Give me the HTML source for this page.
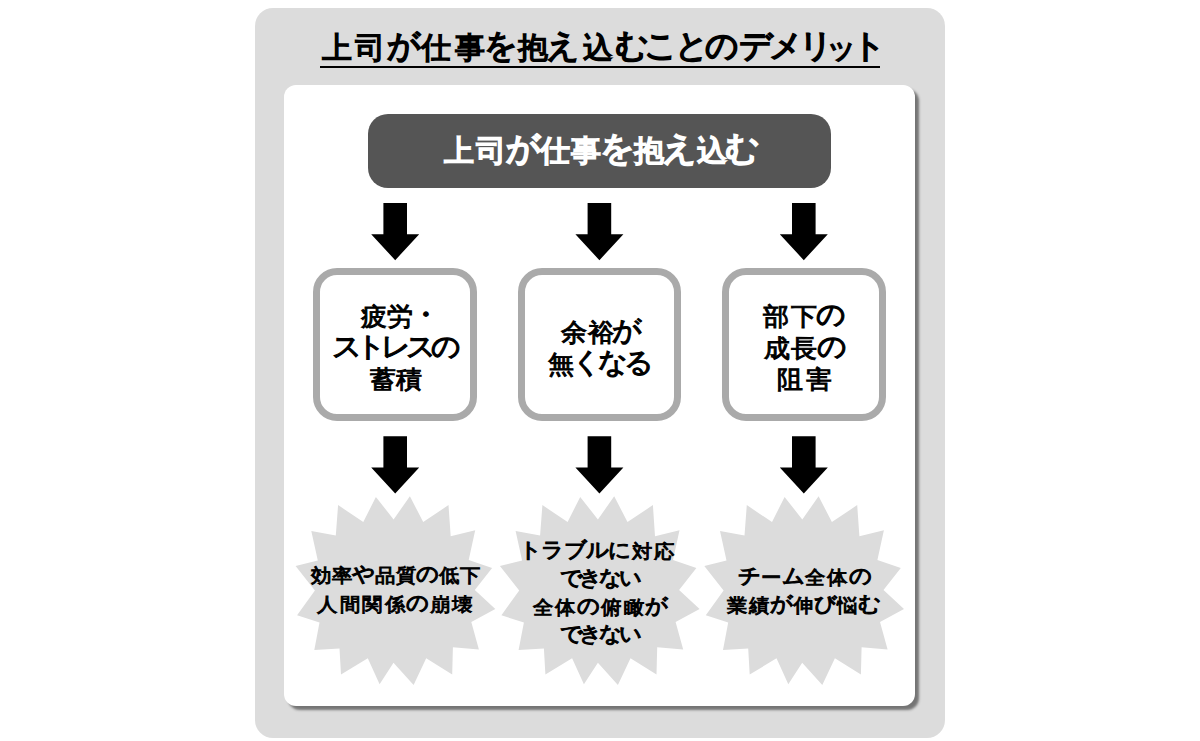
<!DOCTYPE html>
<html><head><meta charset="utf-8"><style>
html,body{margin:0;padding:0;width:1200px;height:741px;overflow:hidden;background:#fff;}
body{position:relative;font-family:"Liberation Sans",sans-serif;}
.t{position:absolute;white-space:nowrap;font-weight:bold;line-height:1;color:#000;display:flex;}
.t span{display:flex;flex:none;justify-content:center;}
.box{position:absolute;top:268px;width:149.5px;height:139.0px;border:7.5px solid #aaa;border-radius:24px;}
svg{position:absolute;left:0;top:0;}
</style></head><body>
<div style="position:absolute;left:254.5px;top:8px;width:690.5px;height:729.5px;border-radius:18px;background:#dcdcdc"></div>
<div style="position:absolute;left:320px;top:65.5px;width:560px;height:2px;background:#000"></div>
<div style="position:absolute;left:284px;top:85px;width:631px;height:621px;border-radius:12px;background:#fff;box-shadow:4px 4px 2.5px rgba(0,0,0,0.47)"></div>
<div style="position:absolute;left:368.4px;top:113.5px;width:463.1px;height:74.2px;border-radius:20px;background:#555"></div>
<div class="box" style="left:313.2px"></div>
<div class="box" style="left:517.8px"></div>
<div class="box" style="left:722.3px"></div>
<svg width="1200" height="741" viewBox="0 0 1200 741">
<polygon points="383.40,203 407.00,203 407.00,234.20 419.20,234.20 395.20,260.20 371.20,234.20 383.40,234.20" fill="#000"/>
<polygon points="383.40,436.3 407.00,436.3 407.00,467.50 419.20,467.50 395.20,493.50 371.20,467.50 383.40,467.50" fill="#000"/>
<polygon points="587.60,203 611.20,203 611.20,234.20 623.40,234.20 599.40,260.20 575.40,234.20 587.60,234.20" fill="#000"/>
<polygon points="587.60,436.3 611.20,436.3 611.20,467.50 623.40,467.50 599.40,493.50 575.40,467.50 587.60,467.50" fill="#000"/>
<polygon points="792.00,203 815.60,203 815.60,234.20 827.80,234.20 803.80,260.20 779.80,234.20 792.00,234.20" fill="#000"/>
<polygon points="792.00,436.3 815.60,436.3 815.60,467.50 827.80,467.50 803.80,493.50 779.80,467.50 792.00,467.50" fill="#000"/>
<polygon points="393.6,519.5 409.9,496.2 423.2,522.1 448.5,505.1 450.7,536.2 475.2,530.3 468.7,560.0 492.1,568.0 474.8,590.0 495.3,609.0 471.3,621.9 478.9,649.4 452.9,647.2 452.2,674.6 426.2,658.3 413.6,685.0 393.5,662.7 379.6,684.3 367.8,658.3 341.0,674.6 339.5,648.6 314.3,650.1 319.5,622.5 297.1,615.3 314.9,590.5 295.6,566.0 317.8,560.5 311.3,531.0 335.8,535.5 338.1,505.1 363.3,522.1 375.9,496.9" fill="#dcdcdc"/>
<polygon points="597.9,519.5 614.2,496.2 627.5,522.1 652.9,505.1 655.0,536.2 679.5,530.3 673.0,560.0 696.4,568.0 679.1,590.0 699.6,609.0 675.6,621.9 683.2,649.4 657.2,647.2 656.5,674.6 630.5,658.3 617.9,685.0 597.9,662.7 583.9,684.3 572.1,658.3 545.4,674.6 543.9,648.6 518.6,650.1 523.9,622.5 501.4,615.3 519.2,590.5 499.9,566.0 522.1,560.5 515.6,531.0 540.1,535.5 542.4,505.1 567.6,522.1 580.2,496.9" fill="#dcdcdc"/>
<polygon points="802.3,519.5 818.6,496.2 831.9,522.1 857.2,505.1 859.4,536.2 883.9,530.3 877.4,560.0 900.8,568.0 883.5,590.0 904.0,609.0 880.0,621.9 887.6,649.4 861.6,647.2 860.9,674.6 834.9,658.3 822.3,685.0 802.2,662.7 788.3,684.3 776.5,658.3 749.7,674.6 748.2,648.6 723.0,650.1 728.2,622.5 705.8,615.3 723.6,590.5 704.3,566.0 726.5,560.5 720.0,531.0 744.5,535.5 746.8,505.1 772.0,522.1 784.6,496.9" fill="#dcdcdc"/>
</svg>
<div class="t" id="title" style="left:0px;top:33.40px;font-size:29.80px;-webkit-text-stroke:1.5px #000;font-weight:normal;width:1200px;height:29.80px"><span style="position:absolute;left:317.00px;top:0;width:40.00px;transform:scaleX(1.000)">上</span><span style="position:absolute;left:349.70px;top:0;width:40.00px;transform:scaleX(1.000)">司</span><span style="position:absolute;left:384.30px;top:0;width:40.00px;transform:translateY(-0.06em) scale(1.120,1.120);transform-origin:50% 56%">が</span><span style="position:absolute;left:415.70px;top:0;width:40.00px;transform:scaleX(1.000)">仕</span><span style="position:absolute;left:450.00px;top:0;width:40.00px;transform:scaleX(1.000)">事</span><span style="position:absolute;left:481.30px;top:0;width:40.00px;transform:translateY(-0.06em) scale(1.120,1.120);transform-origin:50% 56%">を</span><span style="position:absolute;left:512.70px;top:0;width:40.00px;transform:scaleX(1.000)">抱</span><span style="position:absolute;left:543.30px;top:0;width:40.00px;transform:translateY(-0.06em) scale(1.120,1.120);transform-origin:50% 56%">え</span><span style="position:absolute;left:578.00px;top:0;width:40.00px;transform:scaleX(1.000)">込</span><span style="position:absolute;left:612.00px;top:0;width:40.00px;transform:translateY(-0.06em) scale(1.120,1.120);transform-origin:50% 56%">む</span><span style="position:absolute;left:640.70px;top:0;width:40.00px;transform:translateY(-0.06em) scale(1.120,1.120);transform-origin:50% 56%">こ</span><span style="position:absolute;left:672.00px;top:0;width:40.00px;transform:translateY(-0.06em) scale(1.120,1.120);transform-origin:50% 56%">と</span><span style="position:absolute;left:701.70px;top:0;width:40.00px;transform:translateY(-0.06em) scale(1.120,1.120);transform-origin:50% 56%">の</span><span style="position:absolute;left:736.20px;top:0;width:40.00px;transform:translateY(-0.06em) scale(1.120,1.120);transform-origin:50% 56%">デ</span><span style="position:absolute;left:766.20px;top:0;width:40.00px;transform:translateY(-0.06em) scale(1.120,1.120);transform-origin:50% 56%">メ</span><span style="position:absolute;left:796.20px;top:0;width:40.00px;transform:translateY(-0.06em) scale(1.120,1.120);transform-origin:50% 56%">リ</span><span style="position:absolute;left:821.70px;top:0;width:40.00px;transform:scaleX(1.000)">ッ</span><span style="position:absolute;left:848.70px;top:0;width:40.00px;transform:translateY(-0.06em) scale(1.120,1.120);transform-origin:50% 56%">ト</span></div>
<div class="t" id="dark" style="left:0px;top:136.20px;font-size:30.20px;-webkit-text-stroke:1.8px #fff;color:#fff;font-weight:normal;width:1200px;height:30.20px"><span style="position:absolute;left:438.75px;top:0;width:40.00px;transform:scaleX(1.000)">上</span><span style="position:absolute;left:471.00px;top:0;width:40.00px;transform:scaleX(1.000)">司</span><span style="position:absolute;left:503.30px;top:0;width:40.00px;transform:translateY(-0.06em) scale(1.120,1.120);transform-origin:50% 56%">が</span><span style="position:absolute;left:534.70px;top:0;width:40.00px;transform:scaleX(1.000)">仕</span><span style="position:absolute;left:566.00px;top:0;width:40.00px;transform:scaleX(1.000)">事</span><span style="position:absolute;left:596.50px;top:0;width:40.00px;transform:translateY(-0.06em) scale(1.120,1.120);transform-origin:50% 56%">を</span><span style="position:absolute;left:628.60px;top:0;width:40.00px;transform:scaleX(1.000)">抱</span><span style="position:absolute;left:659.40px;top:0;width:40.00px;transform:translateY(-0.06em) scale(1.120,1.120);transform-origin:50% 56%">え</span><span style="position:absolute;left:692.00px;top:0;width:40.00px;transform:scaleX(1.000)">込</span><span style="position:absolute;left:722.40px;top:0;width:40.00px;transform:translateY(-0.06em) scale(1.120,1.120);transform-origin:50% 56%">む</span></div>
<div class="t" id="b1l1" style="left:360.55px;top:304.30px;font-size:25.30px;-webkit-text-stroke:1.0px #000;font-weight:normal"><span style="width:26.15px;transform:scaleX(1.040)">疲</span><span style="width:26.15px;transform:scaleX(1.040)">労</span><span style="width:26.15px;transform:translateY(-0.06em) scale(1.165,1.120);transform-origin:50% 56%">・</span></div>
<div class="t" id="b1l2" style="left:334.50px;top:335.90px;font-size:25.30px;-webkit-text-stroke:1.0px #000;font-weight:normal"><span style="width:24.80px;transform:translateY(-0.06em) scale(1.165,1.120);transform-origin:50% 56%">ス</span><span style="width:24.80px;transform:translateY(-0.06em) scale(1.165,1.120);transform-origin:50% 56%">ト</span><span style="width:24.80px;transform:translateY(-0.06em) scale(1.165,1.120);transform-origin:50% 56%">レ</span><span style="width:24.80px;transform:translateY(-0.06em) scale(1.165,1.120);transform-origin:50% 56%">ス</span><span style="width:24.80px;transform:translateY(-0.06em) scale(1.165,1.120);transform-origin:50% 56%">の</span></div>
<div class="t" id="b1l3" style="left:369.65px;top:367.30px;font-size:25.30px;-webkit-text-stroke:1.0px #000;font-weight:normal"><span style="width:26.60px;transform:scaleX(1.040)">蓄</span><span style="width:26.60px;transform:scaleX(1.040)">積</span></div>
<div class="t" id="b2l1" style="left:560.05px;top:320.30px;font-size:25.30px;-webkit-text-stroke:1.0px #000;font-weight:normal"><span style="width:27.05px;transform:scaleX(1.040)">余</span><span style="width:27.05px;transform:scaleX(1.040)">裕</span><span style="width:27.05px;transform:translateY(-0.06em) scale(1.165,1.120);transform-origin:50% 56%">が</span></div>
<div class="t" id="b2l2" style="left:548.45px;top:351.60px;font-size:25.30px;-webkit-text-stroke:1.0px #000;font-weight:normal"><span style="width:26.00px;transform:scaleX(1.040)">無</span><span style="width:26.00px;transform:translateY(-0.06em) scale(1.165,1.120);transform-origin:50% 56%">く</span><span style="width:26.00px;transform:translateY(-0.06em) scale(1.165,1.120);transform-origin:50% 56%">な</span><span style="width:26.00px;transform:translateY(-0.06em) scale(1.165,1.120);transform-origin:50% 56%">る</span></div>
<div class="t" id="b3l1" style="left:762.30px;top:303.60px;font-size:25.30px;-webkit-text-stroke:1.0px #000;font-weight:normal"><span style="width:27.50px;transform:scaleX(1.040)">部</span><span style="width:27.50px;transform:scaleX(1.040)">下</span><span style="width:27.50px;transform:translateY(-0.06em) scale(1.165,1.120);transform-origin:50% 56%">の</span></div>
<div class="t" id="b3l2" style="left:762.50px;top:336.40px;font-size:25.30px;-webkit-text-stroke:1.0px #000;font-weight:normal"><span style="width:27.50px;transform:scaleX(1.040)">成</span><span style="width:27.50px;transform:scaleX(1.040)">長</span><span style="width:27.50px;transform:translateY(-0.06em) scale(1.165,1.120);transform-origin:50% 56%">の</span></div>
<div class="t" id="b3l3" style="left:774.70px;top:366.95px;font-size:25.30px;-webkit-text-stroke:1.0px #000;font-weight:normal"><span style="width:29.30px;transform:scaleX(1.040)">阻</span><span style="width:29.30px;transform:scaleX(1.040)">害</span></div>
<div class="t" id="s1l1" style="left:309.95px;top:567.30px;font-size:18.80px;-webkit-text-stroke:1.0px #000;font-weight:normal"><span style="width:21.36px;transform:scaleX(1.070)">効</span><span style="width:21.36px;transform:scaleX(1.070)">率</span><span style="width:21.36px;transform:translateY(-0.06em) scale(1.198,1.120);transform-origin:50% 56%">や</span><span style="width:21.36px;transform:scaleX(1.070)">品</span><span style="width:21.36px;transform:scaleX(1.070)">質</span><span style="width:21.36px;transform:translateY(-0.06em) scale(1.198,1.120);transform-origin:50% 56%">の</span><span style="width:21.36px;transform:scaleX(1.070)">低</span><span style="width:21.36px;transform:scaleX(1.070)">下</span></div>
<div class="t" id="s1l2" style="left:316.45px;top:595.70px;font-size:18.80px;-webkit-text-stroke:1.0px #000;font-weight:normal"><span style="width:22.45px;transform:scaleX(1.070)">人</span><span style="width:22.45px;transform:scaleX(1.070)">間</span><span style="width:22.45px;transform:scaleX(1.070)">関</span><span style="width:22.45px;transform:scaleX(1.070)">係</span><span style="width:22.45px;transform:translateY(-0.06em) scale(1.198,1.120);transform-origin:50% 56%">の</span><span style="width:22.45px;transform:scaleX(1.070)">崩</span><span style="width:22.45px;transform:scaleX(1.070)">壊</span></div>
<div class="t" id="s2l1" style="left:519.20px;top:543.30px;font-size:18.80px;-webkit-text-stroke:1.0px #000;font-weight:normal"><span style="width:22.30px;transform:translateY(-0.06em) scale(1.198,1.120);transform-origin:50% 56%">ト</span><span style="width:22.30px;transform:translateY(-0.06em) scale(1.198,1.120);transform-origin:50% 56%">ラ</span><span style="width:22.30px;transform:translateY(-0.06em) scale(1.198,1.120);transform-origin:50% 56%">ブ</span><span style="width:22.30px;transform:translateY(-0.06em) scale(1.198,1.120);transform-origin:50% 56%">ル</span><span style="width:22.30px;transform:translateY(-0.06em) scale(1.198,1.120);transform-origin:50% 56%">に</span><span style="width:22.30px;transform:scaleX(1.070)">対</span><span style="width:22.30px;transform:scaleX(1.070)">応</span></div>
<div class="t" id="s2l2" style="left:560.55px;top:571.10px;font-size:18.80px;-webkit-text-stroke:1.0px #000;font-weight:normal"><span style="width:19.90px;transform:translateY(-0.06em) scale(1.198,1.120);transform-origin:50% 56%">で</span><span style="width:19.90px;transform:translateY(-0.06em) scale(1.198,1.120);transform-origin:50% 56%">き</span><span style="width:19.90px;transform:translateY(-0.06em) scale(1.198,1.120);transform-origin:50% 56%">な</span><span style="width:19.90px;transform:translateY(-0.06em) scale(1.198,1.120);transform-origin:50% 56%">い</span></div>
<div class="t" id="s2l3" style="left:531.70px;top:599.00px;font-size:18.80px;-webkit-text-stroke:1.0px #000;font-weight:normal"><span style="width:22.72px;transform:scaleX(1.070)">全</span><span style="width:22.72px;transform:scaleX(1.070)">体</span><span style="width:22.72px;transform:translateY(-0.06em) scale(1.198,1.120);transform-origin:50% 56%">の</span><span style="width:22.72px;transform:scaleX(1.070)">俯</span><span style="width:22.72px;transform:scaleX(1.070)">瞰</span><span style="width:22.72px;transform:translateY(-0.06em) scale(1.198,1.120);transform-origin:50% 56%">が</span></div>
<div class="t" id="s2l4" style="left:560.55px;top:627.10px;font-size:18.80px;-webkit-text-stroke:1.0px #000;font-weight:normal"><span style="width:19.90px;transform:translateY(-0.06em) scale(1.198,1.120);transform-origin:50% 56%">で</span><span style="width:19.90px;transform:translateY(-0.06em) scale(1.198,1.120);transform-origin:50% 56%">き</span><span style="width:19.90px;transform:translateY(-0.06em) scale(1.198,1.120);transform-origin:50% 56%">な</span><span style="width:19.90px;transform:translateY(-0.06em) scale(1.198,1.120);transform-origin:50% 56%">い</span></div>
<div class="t" id="s3l1" style="left:737.65px;top:568.90px;font-size:18.80px;-webkit-text-stroke:1.0px #000;font-weight:normal"><span style="width:22.18px;transform:translateY(-0.06em) scale(1.198,1.120);transform-origin:50% 56%">チ</span><span style="width:22.18px;transform:scaleX(1.070)">ー</span><span style="width:22.18px;transform:translateY(-0.06em) scale(1.198,1.120);transform-origin:50% 56%">ム</span><span style="width:22.18px;transform:scaleX(1.070)">全</span><span style="width:22.18px;transform:scaleX(1.070)">体</span><span style="width:22.18px;transform:translateY(-0.06em) scale(1.198,1.120);transform-origin:50% 56%">の</span></div>
<div class="t" id="s3l2" style="left:726.40px;top:597.25px;font-size:18.80px;-webkit-text-stroke:1.0px #000;font-weight:normal"><span style="width:22.00px;transform:scaleX(1.070)">業</span><span style="width:22.00px;transform:scaleX(1.070)">績</span><span style="width:22.00px;transform:translateY(-0.06em) scale(1.198,1.120);transform-origin:50% 56%">が</span><span style="width:22.00px;transform:scaleX(1.070)">伸</span><span style="width:22.00px;transform:translateY(-0.06em) scale(1.198,1.120);transform-origin:50% 56%">び</span><span style="width:22.00px;transform:scaleX(1.070)">悩</span><span style="width:22.00px;transform:translateY(-0.06em) scale(1.198,1.120);transform-origin:50% 56%">む</span></div>
</body></html>
